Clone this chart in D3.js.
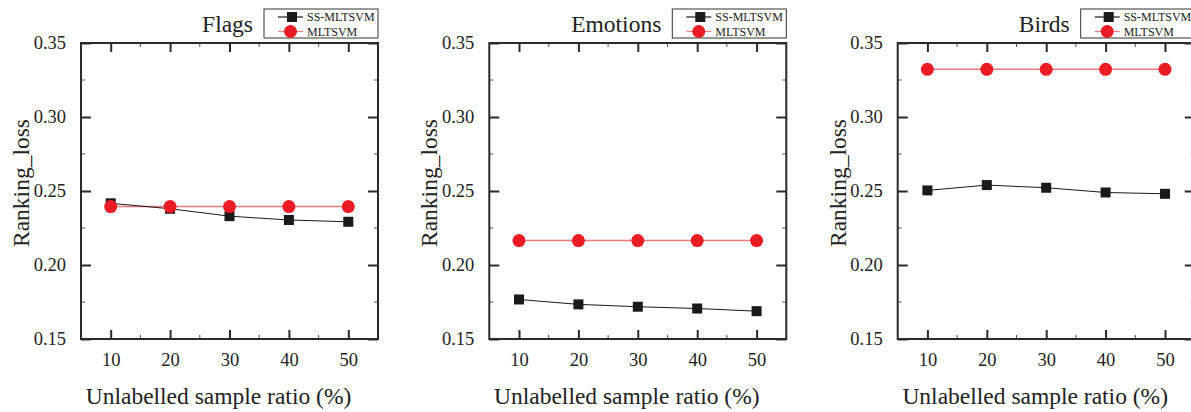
<!DOCTYPE html>
<html>
<head>
<meta charset="utf-8">
<script src="https://cdn.jsdelivr.net/npm/d3@7"></script>
<style>
  html, body { margin: 0; padding: 0; background: #fff; }
  svg { display: block; }
  text { font-family: "Liberation Serif", "Times New Roman", serif; fill: #222; }
</style>
</head>
<body>
<svg id="chart" width="1191" height="412"></svg>
<script>
// ---- data ----
const ratios = [10, 20, 30, 40, 50];
const xTicks = [10, 20, 30, 40, 50];
const yTicks = [0.15, 0.20, 0.25, 0.30, 0.35];
const seriesNames = ["SS-MLTSVM", "MLTSVM"];
const datasets = ["Flags", "Emotions", "Birds"];
const flagsSS = [0.2417, 0.2380, 0.2330, 0.2304, 0.2292];
const flagsML = [0.2395, 0.2395, 0.2395, 0.2395, 0.2395];
const emotionsSS = [0.1767, 0.1734, 0.1718, 0.1706, 0.1688];
const emotionsML = [0.2165, 0.2165, 0.2165, 0.2165, 0.2165];
const birdsSS = [0.2504, 0.2540, 0.2522, 0.2490, 0.2481];
const birdsML = [0.3322, 0.3322, 0.3322, 0.3322, 0.3322];
const yLabel = "Ranking_loss";
const xLabel = "Unlabelled sample ratio (%)";

const panels = [
  { name: datasets[0], ss: flagsSS, ml: flagsML },
  { name: datasets[1], ss: emotionsSS, ml: emotionsML },
  { name: datasets[2], ss: birdsSS, ml: birdsML }
];

const svg = d3.select("#chart");
const W = 297, H = 296, topY = 43;
const lefts = [81, 489.3, 897.7];
const axisColor = "#2a2a2a";
const red = "#ec1c24";
const redLine = "#f07a7a";
const black = "#1a1a1a";

const x = d3.scaleLinear().domain([5, 55]).range([0, W]);
const y = d3.scaleLinear().domain([0.15, 0.35]).range([H, 0]);

panels.forEach((p, i) => {
  const g = svg.append("g").attr("transform", `translate(${lefts[i]},${topY})`);

  // minor ticks
  const minorX = [15, 25, 35, 45];
  const minorY = [0.175, 0.225, 0.275, 0.325];
  const mg = g.append("g").attr("stroke", "#555").attr("stroke-width", 1);
  minorX.forEach(v => {
    mg.append("line").attr("x1", x(v)).attr("x2", x(v)).attr("y1", H).attr("y2", H - 4);
    mg.append("line").attr("x1", x(v)).attr("x2", x(v)).attr("y1", 0).attr("y2", 4);
  });
  minorY.forEach(v => {
    mg.append("line").attr("x1", 0).attr("x2", 4).attr("y1", y(v)).attr("y2", y(v));
    mg.append("line").attr("x1", W).attr("x2", W - 4).attr("y1", y(v)).attr("y2", y(v));
  });

  // major axes
  const ax = [
    g.append("g").attr("transform", `translate(0,${H})`)
      .call(d3.axisBottom(x).tickValues(xTicks).tickSize(-9).tickPadding(14).tickFormat(d3.format("d"))),
    g.append("g")
      .call(d3.axisTop(x).tickValues(xTicks).tickSize(-9).tickFormat("")),
    g.append("g")
      .call(d3.axisLeft(y).tickValues(yTicks).tickSize(-10).tickPadding(15).tickFormat(d3.format(".2f"))),
    g.append("g").attr("transform", `translate(${W},0)`)
      .call(d3.axisRight(y).tickValues(yTicks).tickSize(-10).tickFormat(""))
  ];
  ax.forEach(a => {
    a.select(".domain").remove();
    a.selectAll(".tick line").attr("stroke", axisColor).attr("stroke-width", 2);
    a.selectAll(".tick text").style("font-family", '"Liberation Serif", serif')
      .style("font-size", "18.5px").attr("fill", "#222");
  });
  g.append("rect").attr("x", 0).attr("y", 0).attr("width", W).attr("height", H)
    .attr("fill", "none").attr("stroke", axisColor).attr("stroke-width", 2);

  // lines
  const line = d3.line().x((d, j) => x(ratios[j])).y(d => y(d));
  g.append("path").datum(p.ml).attr("d", line).attr("fill", "none")
    .attr("stroke", redLine).attr("stroke-width", 1.5);
  g.append("path").datum(p.ss).attr("d", line).attr("fill", "none")
    .attr("stroke", black).attr("stroke-width", 1);

  // markers
  const sq = 10;
  g.selectAll("rect.ss").data(p.ss).enter().append("rect").attr("class", "ss")
    .attr("x", (d, j) => x(ratios[j]) - sq / 2).attr("y", d => y(d) - sq / 2)
    .attr("width", sq).attr("height", sq).attr("fill", black);
  g.selectAll("circle.ml").data(p.ml).enter().append("circle").attr("class", "ml")
    .attr("cx", (d, j) => x(ratios[j])).attr("cy", d => y(d)).attr("r", 6.5).attr("fill", red);

  // axis labels
  g.append("text").attr("x", W / 2 - 11).attr("y", 361)
    .attr("text-anchor", "middle").style("font-size", "23.5px").text(xLabel);
  g.append("text").attr("transform", `translate(-52,${H / 2 - 8}) rotate(-90)`)
    .attr("text-anchor", "middle").style("font-size", "23.5px").text(yLabel);

  // legend
  const lgX = W - 114, lgY = -34, lgW = 114, lgH = 29;
  const lg = g.append("g").attr("transform", `translate(${lgX},${lgY})`);
  lg.append("rect").attr("width", lgW).attr("height", lgH).attr("fill", "#fff")
    .attr("stroke", "#333").attr("stroke-width", 1);
  const rows = [
    { name: seriesNames[0], color: black, lineColor: black, shape: "sq", yy: 8 },
    { name: seriesNames[1], color: red, lineColor: redLine, shape: "ci", yy: 22.5 }
  ];
  rows.forEach(r => {
    lg.append("line").attr("x1", 14).attr("x2", 39).attr("y1", r.yy).attr("y2", r.yy)
      .attr("stroke", r.lineColor).attr("stroke-width", 1.2);
    if (r.shape === "sq") {
      lg.append("rect").attr("x", 23).attr("y", r.yy - 5).attr("width", 10).attr("height", 10).attr("fill", r.color);
    } else {
      lg.append("circle").attr("cx", 26.5).attr("cy", r.yy).attr("r", 6.5).attr("fill", r.color);
    }
    lg.append("text").attr("x", 43).attr("y", r.yy + 4.3).style("font-size", "12px").text(r.name);
  });

  // title
  g.append("text").attr("x", lgX - 11).attr("y", -11).attr("text-anchor", "end")
    .style("font-size", "23.5px").text(p.name);
});
</script>
</body>
</html>
